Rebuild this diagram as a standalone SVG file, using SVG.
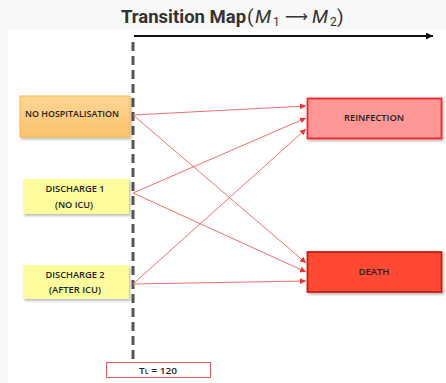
<svg xmlns="http://www.w3.org/2000/svg" width="446" height="383" viewBox="0 0 446 383">
<style>
.lbl{font-family:"Open Sans","Liberation Sans",sans-serif;font-weight:600;font-size:8.5px;fill:#222;text-anchor:middle}
.conn{stroke:#ef6f6f;stroke-width:1;fill:none;marker-end:url(#ah)}
</style>
<defs>
<marker id="ah" viewBox="0 0 10 10" refX="10" refY="5" markerWidth="6" markerHeight="6" markerUnits="userSpaceOnUse" orient="auto">
<path d="M0,0 L10,5 L0,10 z" fill="#ee3333"/>
</marker>
<marker id="ahk" viewBox="0 0 10 10" refX="10" refY="5" markerWidth="7" markerHeight="7" markerUnits="userSpaceOnUse" orient="auto">
<path d="M0,0 L10,5 L0,10 z" fill="#111"/>
</marker>
<linearGradient id="og" x1="0" y1="0" x2="0" y2="1">
<stop offset="0" stop-color="#fed695"/>
<stop offset="1" stop-color="#fbc26c"/>
</linearGradient>
<filter id="sh" x="-10%" y="-20%" width="130%" height="150%">
<feDropShadow dx="1.5" dy="2" stdDeviation="1" flood-color="#000" flood-opacity="0.25"/>
</filter>
</defs>
<rect width="446" height="383" fill="#ffffff"/>
<rect x="0" y="0" width="446" height="29" fill="#f8f8f8"/>
<rect x="0" y="0" width="8" height="383" fill="#f8f8f8"/>
<g id="title">
<text y="23" font-family="Roboto,'Liberation Sans',sans-serif" font-size="19" fill="#333"><tspan x="121" font-weight="bold" font-size="18.5">Transition Map</tspan><tspan x="247">(</tspan><tspan x="255" font-style="italic">M</tspan><tspan x="273" y="26" font-size="12">1</tspan><tspan x="285" y="22" font-family="'DejaVu Sans',sans-serif" font-size="16">⟶</tspan><tspan x="312" y="23" font-style="italic">M</tspan><tspan x="330" y="26" font-size="12">2</tspan><tspan x="337" y="23">)</tspan></text>
</g>
<g id="timeline">
<line x1="134" y1="36" x2="433" y2="36" stroke="#111" stroke-width="2" marker-end="url(#ahk)"/>
<line x1="133" y1="42" x2="133" y2="360" stroke="#555" stroke-width="3" stroke-dasharray="9,5"/>
</g>
<g id="connectors">
<line class="conn" x1="133" y1="115" x2="306" y2="106"/>
<line class="conn" x1="133" y1="115" x2="306" y2="263"/>
<line class="conn" x1="133" y1="193" x2="306" y2="118"/>
<line class="conn" x1="133" y1="193" x2="306" y2="272"/>
<line class="conn" x1="133" y1="284" x2="306" y2="129"/>
<line class="conn" x1="133" y1="284" x2="306" y2="281"/>
</g>
<g id="no-hospitalisation">
<rect x="20" y="96" width="110" height="41" fill="url(#og)" stroke="#f2b84a" stroke-width="1" filter="url(#sh)"/>
<text class="lbl" x="72" y="117" textLength="94" lengthAdjust="spacingAndGlyphs">NO HOSPITALISATION</text>
</g>
<g id="discharge-1">
<rect x="23" y="179" width="106" height="35" fill="#fcfc9c" filter="url(#sh)"/>
<text class="lbl" x="75" y="192" textLength="59" lengthAdjust="spacingAndGlyphs">DISCHARGE 1</text>
<text class="lbl" x="74" y="208" textLength="38" lengthAdjust="spacingAndGlyphs">(NO ICU)</text>
</g>
<g id="discharge-2">
<rect x="23" y="265" width="106" height="34" fill="#fcfc9c" filter="url(#sh)"/>
<text class="lbl" x="75" y="278" textLength="59" lengthAdjust="spacingAndGlyphs">DISCHARGE 2</text>
<text class="lbl" x="75" y="293" textLength="52" lengthAdjust="spacingAndGlyphs">(AFTER ICU)</text>
</g>
<g id="reinfection">
<rect x="307.5" y="98.5" width="134" height="40" fill="#ff9797" stroke="#ff2424" stroke-width="1.8" filter="url(#sh)"/>
<text class="lbl" x="374" y="121" textLength="60" lengthAdjust="spacingAndGlyphs">REINFECTION</text>
</g>
<g id="death">
<rect x="307.5" y="252" width="134" height="40" fill="#ff4a33" stroke="#c81c10" stroke-width="1.8" filter="url(#sh)"/>
<text class="lbl" x="374" y="275" textLength="31" lengthAdjust="spacingAndGlyphs">DEATH</text>
</g>
<g id="tl">
<rect x="106.5" y="362.5" width="104" height="15" fill="#fff" stroke="#e05a5a" stroke-width="1"/>
<text x="158" y="374" font-family="'Open Sans','Liberation Sans',sans-serif" font-size="9" font-weight="600" fill="#222" text-anchor="middle" textLength="38" lengthAdjust="spacingAndGlyphs">T<tspan font-size="6.5">L</tspan> = 120</text>
</g>
</svg>
